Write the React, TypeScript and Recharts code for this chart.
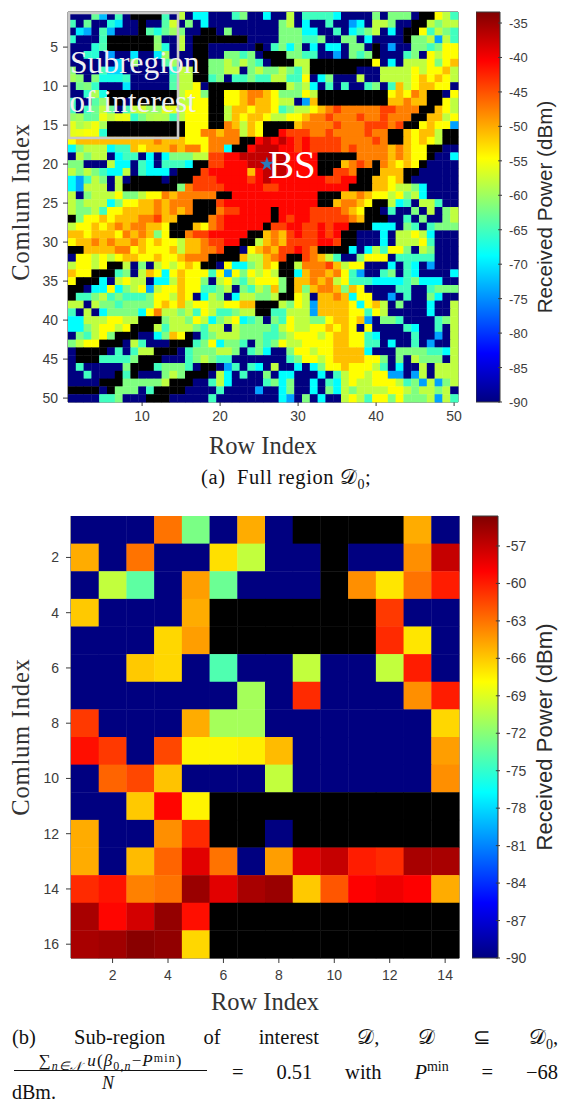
import {
  Bar,
  BarChart,
  Scatter,
  ScatterChart,
  XAxis,
  YAxis,
} from 'recharts';

// full region, one letter per cell, split in a west and an east half
const fullRowsWest = [
  'tnngbngn.....glnccnnntgnn', 'gnnntclnn.nnglngncnnnnnnn', 'ncbnnbnnn.ttglgnn..ngnnnn', 'tnnnn......gnnln.......nn', 'nnntg......gnnln..nnnnnn.',
  'nnntcbnntnncglnn..nnggtgn', 'nnnctnnntnnnglnn..gglglgt', 'lnnccttnnnnnnnll..ggllngl', 'gllnccccnnnnnnll..tgnttgt', 'ggggnnncnnnnnnllyn.......',
  'nnggg.........lyyg..yyaoo', 'ggllggylllyyllllyy..yyaoa', 'glllyyyytgglgtlyyy..laaya', 'ylllyyyytgglgllyyy..layaa', 'yyyyt..........yyy..oalay',
  'yyyyt..........yyooaoolay', 'yaaaaaaaaaaoaaayyyoooo..R', 'cglllcttayaaaoaooyooc..Rd', 'nlgllncttncncgggllrrRRddd', 'ggnnnlccntcntttc..rrRRRdd',
  'lglgtcclntcccn...rRRRRRaR', 'cbtlgnln....n...rrrRRRRrR', 'cblllnl.......gorrrrRRRRR', 'lnglllygglyyoaooooo..RRRR', 'lglllcgyyaaoaooo...rRRRRR',
  'lggltyyaaaaoaoao...orrRRR', '.gyyayaaaooraa....orRRRRR', 'lyyayaoaooaay...ayorRRRRR', 'aayaaayoaoagy..orrRRRRR..', 'yaaoaoaaoayayylaaorrRR..l',
  '..aaaaooyayyyalaaoor..nya', 'nyylylyaayyayyaooo....all', 'lyyly..lngnlylyay..nyccgl', 'ayy...tgnlaycyayyytybygyl', 'y...cnlyllncclayygnlygtly',
  '..nccycglyblyyayyttglngtl', '.ttgltgtttgyylaynclgncllg', 'llnlggtggggyayalyyllyyaa.', 'tnlncggggcyollgltylttgll.', 'cclllyyll...gllgylcglyctg',
  'ccglyyly...ltlllgtllnlggg', 'ngtlyg...nncgay.ntglllggg', 'glyy...nltnnn...tgycggtng', 'n....ntntll...ntgggllgntg', 'n...ttttg...nnntglgttnnnn',
  'ntnnnnng...tgggtn..nbtntc', 'nntnnn.t.nnnglg...nlcntnn', 'nnnn...gggggl...nntlcnnnn', '....n.gggnt....nnnntnnnnb', 'nnnnttgnnn...nnnnntnnnnnn',
];
const fullRowsEast = [
  'cnnlnttttcnnnngngggn..ylt', 'nnglncnntnnbcnllgnn..lgll', 'nngggccnntnctglncn..ytlgt', 'nngggttgnnggncnnnn.gglblt', 'ntgcgncnccnggn.nbnnggtgyy',
  '...ggttnnbngtg.nnntgnylyy', 'n...ll........yncnlllygya', 'gglgtl......nnnllllylyyal', 'tllttyncgnnnlnnllllyayayl', '...lglcntntnntgntalyaayyn',
  'aygggyl.........yayoa..ny', 'ayllnba.........aaoaa..yl', 'aytgllyaorooooorrooo..ayl', 'yllyyaooroooroorooo..aaly', '....aoooorooorrror..yayyb',
  '..Rrrroorooooroo..ayaal..', 'dRdRrRrrrrooooro..ayayl..', 'ddRRrRrrrrorooooaoayy..nn', 'dddRRRR.....ooooaoayy.nnc', 'dddRRRR...aoro.oayay.nnnn',
  'dddRRRR..rro...aaa..nnnnn', 'dRRRRRRRrrRR..aaya.nnnnnn', 'rrRRRRRRRRR...aayllgcnnnn', 'RRRRRRR...aaoayylyglcnnnn', 'RRRRRRR..aooay..lctnlltnn',
  'R.RRRRrrrroay..ntnngnlngl', 'R.RrRRrrrrroa...nntngnngl', '.rrRRrrRrRR...cccngtntggg', 'aoarRrrRrR..nnncnllylcnnn', 'aoarrrrRRr..nnncnlllytnnn',
  'oarrRro....cncltyygnlgnnn', 'aor..roaltnngyyyntttttnnn', 'ay..loooralyynnncntcnbnnn', 'yl..caooaoytbnntgntcnnnnc', 'yyg.aaoaolytttcccctgcccnn',
  'gag.agaooagaynnnnttnntggg', 'gl..ylnaaoacyynnbntnngcnn', '..lgylbaaaaycyalngnnncnnl', '.ttlllbaaaayytylnnnnncnnl', 'ngtyllggyaayabnggtnnnntgl',
  'gtlyllyyayaynynnnntcnntnl', 'ttglyyylyaayytcnnnntnnbnl', 'tgyllyyyyaayyttncnntnbnnl', 'cnngyylyyaaaacnnnggggttcl', 'nnntgyylyaaaayygngnlgggnl',
  'nlnncncgyyayyyltncnnlnlll', 'gnccnnncntlyylyybbnblnlll', 'tgcgnncntclyllyyyltgblbgl', 'nncgnncngclgllllyylgllgln', 'nncbngncnnlyltyygyggglblt',
];
// dBm for each letter, '.' means no reading (drawn black)
const fullLevels: Record<string, number> = {
  n: -90, b: -74, c: -68.8, t: -65.2, g: -61.7, l: -58.2, y: -54.6, a: -51.1, o: -47.5, r: -44, R: -40.8, d: -37,
};
const N = -90;
const X = null;
// the sub-region is the top left corner of the full region: 16 rows, 14 columns
const subRows: (number | null)[][] = [
  [N, N, N, -63, -72.5, N, -65, N, X, X, X, X, -65, N],
  [-65, N, -63, N, N, -66.8, -70, N, N, X, N, N, -64, -57],
  [N, -70, -73.5, N, -64.5, -73, N, N, N, X, -64, -67, -63, -60],
  [-66, N, N, N, -65, X, X, X, X, X, X, -61, N, N],
  [N, N, N, -66.5, -64.5, X, X, X, X, X, X, -60.5, -67, N],
  [N, N, -66, -66.5, N, -74, N, N, -70, N, N, -70, -60, N],
  [N, N, N, N, N, N, -71, N, -60.5, N, N, N, -64, -60],
  [-61, N, N, N, -65, -71, -71, N, N, N, N, N, N, -66.5],
  [-59.5, -61, N, -61.5, -67.5, -67.5, -67.3, -65.5, N, N, N, N, N, -64.5],
  [N, -62.5, -61.5, -65.8, N, N, N, -70, N, N, N, N, N, -64],
  [N, N, -66, -59.2, -67.5, X, X, X, X, X, X, X, X, X],
  [-65, N, N, -64, -60.5, X, X, N, X, X, X, X, X, X],
  [-65, N, -65.5, -62.5, -58, -63, N, -64.5, -58, -57, -60, -60.5, -56, -56],
  [-60.5, -59.7, -63.5, -63, -55.5, -58, -56, -55.5, -66, -62, -59, -58.5, -59, -65],
  [-56, -59.2, -57.5, -55.3, -59.5, X, X, X, X, X, X, X, X, X],
  [-56, -55.7, -54.9, -55.2, -66.5, X, X, X, X, X, X, X, X, X],
];

const fullXTicks = [10, 20, 30, 40, 50];
const fullYTicks = [5, 10, 15, 20, 25, 30, 35, 40, 45, 50];
const subXTicks = [2, 4, 6, 8, 10, 12, 14];
const subYTicks = [2, 4, 6, 8, 10, 12, 14, 16];
const fullBarTicks = [-90, -85, -80, -75, -70, -65, -60, -55, -50, -45, -40, -35];
const subBarTicks = [-90, -87, -84, -81, -78, -75, -72, -69, -66, -63, -60, -57];
const fullRange = [-90, -33.4];
const subRange = [-90, -54.6];
const bsPoint = [{ col: 26, row: 20 }];
const subregionBox = [{ col: 7.62, row: 8.64 }];
const annotations = [
  { col: 0.76, row: 8.3, text: 'Subregion', size: 31.5, color: '#f0f0f0' },
  { col: 0.65, row: 13.3, text: 'of interest', size: 31.5, color: '#f0f0f0' },
  { col: 26.14, row: 21.8, text: 'BS', size: 39, color: '#ffffff' },
];

const sans = '"Liberation Sans", Arial, sans-serif';
const serif = '"Liberation Serif", "Times New Roman", serif';
const axisGrey = '#3a3a3a';
const tickStyle = { fill: '#3c3c3c', fontSize: 14, fontFamily: sans };
const axisTitle = { fill: '#333', fontSize: 24.5, fontFamily: serif };
const columnTitle = { ...axisTitle, letterSpacing: 0.8, textAnchor: 'middle' };

const jetStops = [
  [0, '#000080'], [0.125, '#0000ff'], [0.375, '#00ffff'], [0.625, '#ffff00'], [0.875, '#ff0000'], [1, '#800000'],
] as const;

function hexToRgb(hex: string) {
  return [1, 3, 5].map((i) => parseInt(hex.slice(i, i + 2), 16));
}

function jet(t: number) {
  const v = Math.min(1, Math.max(0, t));
  for (let i = 1; i < jetStops.length; i++) {
    const [t1, c1] = jetStops[i];
    if (v <= t1) {
      const [t0, c0] = jetStops[i - 1];
      const f = (v - t0) / (t1 - t0);
      const a = hexToRgb(c0);
      const b = hexToRgb(c1);
      return `rgb(${a.map((p, k) => Math.round(p + (b[k] - p) * f)).join(',')})`;
    }
  }
  return '#800000';
}

const fullCells = fullRowsWest.flatMap((west, r) =>
  (west + fullRowsEast[r]).split('').map((ch, c) => {
    const inSub = r < subRows.length && c < subRows[0].length;
    const dbm = inSub ? subRows[r][c] : ch === '.' ? null : fullLevels[ch];
    return { col: c + 1, row: r + 1, dbm };
  }),
);
const subCells = subRows.flatMap((cells, r) =>
  cells.map((dbm, c) => ({ col: c + 1, row: r + 1, dbm })),
);

function makeCell(w: number, h: number, range: number[]) {
  return (props: any) => {
    const { dbm } = props.payload;
    const fill = dbm === null ? '#000' : jet((dbm - range[0]) / (range[1] - range[0]));
    return (
      <rect
        x={props.cx - w / 2}
        y={props.cy - h / 2}
        width={w + 0.4}
        height={h + 0.4}
        fill={fill}
        stroke="none"
      />
    );
  };
}

const boxShape = (props: any) => (
  <rect x={props.cx - 54.5} y={props.cy - 62.5} width={109} height={125} fill="none" stroke="#c8c8c8" strokeWidth={2.6} />
);

const noteShape = (props: any) => (
  <text x={props.cx} y={props.cy} fill={props.payload.color} fontSize={props.payload.size} fontFamily={serif}>
    {props.payload.text}
  </text>
);

// ticks with no number, only the little mark on the far sides of the box
const blankTick = () => <g />;

function ColorBar({ top, left, height, barWidth, ticks, range, id, labelSize, labelDx, tickGap, tickSize }: any) {
  const renderTick = (p: any) => (
    <g>
      <line x1={p.x - barWidth * 0.16} x2={p.x} y1={p.y} y2={p.y} stroke={axisGrey} />
      <text x={p.x + tickGap} y={p.y + 5} {...tickStyle} fontSize={tickSize}>{p.payload.value}</text>
    </g>
  );
  return (
    <div style={{ position: 'absolute', top: top - 10, left }}>
      <BarChart
        width={barWidth + 70}
        height={height + 20}
        data={[{ name: 'bar', span: range }]}
        margin={{ top: 10, right: 0, bottom: 10, left: 0 }}
        barCategoryGap={0}
      >
        <defs>
          <linearGradient id={id} x1="0" y1="1" x2="0" y2="0">
            {jetStops.map(([t, c]) => (
              <stop key={t} offset={t} stopColor={c} />
            ))}
          </linearGradient>
        </defs>
        <XAxis dataKey="name" hide />
        <YAxis
          orientation="right"
          width={70}
          type="number"
          domain={range}
          ticks={ticks}
          interval={0}
          axisLine={false}
          tickLine={false}
          tickSize={0}
          tick={renderTick}
          label={{
            value: 'Received Power (dBm)',
            angle: -90,
            position: 'center',
            dx: labelDx,
            style: { fill: '#2b2b2b', fontSize: labelSize, fontFamily: sans },
          }}
        />
        <Bar dataKey="span" fill={`url(#${id})`} stroke={axisGrey} strokeWidth={1} isAnimationActive={false} />
      </BarChart>
    </div>
  );
}

function FullPanel() {
  const cell = 7.8;
  return (
    <div style={{ position: 'absolute', top: 0, left: 0 }}>
      <ScatterChart width={470} height={462} margin={{ top: 0, right: 0, bottom: 0, left: 0 }}>
        <XAxis
          xAxisId="bottom"
          type="number"
          dataKey="col"
          domain={[0.5, 50.5]}
          ticks={fullXTicks}
          interval={0}
          height={60}
          tickSize={4}
          tickMargin={5}
          stroke={axisGrey}
          tick={tickStyle}
          label={{ value: 'Row Index', position: 'insideBottom', offset: 8, style: axisTitle }}
        />
        <XAxis xAxisId="top" orientation="top" type="number" domain={[0.5, 50.5]} ticks={fullXTicks} interval={0} height={12} tickSize={4} tick={blankTick} stroke={axisGrey} />
        <YAxis
          yAxisId="left"
          type="number"
          dataKey="row"
          reversed
          domain={[0.5, 50.5]}
          ticks={fullYTicks}
          interval={0}
          width={68}
          tickSize={5}
          tickMargin={5}
          stroke={axisGrey}
          tick={tickStyle}
          label={{ value: 'Comlum Index', angle: -90, position: 'insideLeft', offset: 20, dy: -5, style: columnTitle }}
        />
        <YAxis yAxisId="right" orientation="right" type="number" reversed domain={[0.5, 50.5]} ticks={fullYTicks} interval={0} width={12} tickSize={4} tick={blankTick} stroke={axisGrey} />
        <Scatter xAxisId="bottom" yAxisId="left" data={fullCells} shape={makeCell(cell, cell, fullRange)} isAnimationActive={false} />
        <Scatter xAxisId="bottom" yAxisId="left" data={subregionBox} shape={boxShape} isAnimationActive={false} />
        <Scatter xAxisId="bottom" yAxisId="left" data={bsPoint} shape="star" fill="#2b7bba" isAnimationActive={false} />
        <Scatter xAxisId="bottom" yAxisId="left" data={annotations} shape={noteShape} isAnimationActive={false} />
      </ScatterChart>
    </div>
  );
}

function SubPanel() {
  return (
    <div style={{ position: 'absolute', top: 500, left: 0 }}>
      <ScatterChart width={470} height={520} margin={{ top: 16, right: 0, bottom: 0, left: 0 }}>
        <XAxis
          xAxisId="bottom"
          type="number"
          dataKey="col"
          domain={[0.5, 14.5]}
          ticks={subXTicks}
          interval={0}
          height={62}
          tickSize={5}
          tickMargin={7}
          stroke={axisGrey}
          tick={tickStyle}
          label={{ value: 'Row Index', position: 'insideBottom', offset: 10, style: axisTitle }}
        />
        <YAxis
          yAxisId="left"
          type="number"
          dataKey="row"
          reversed
          domain={[0.5, 16.5]}
          ticks={subYTicks}
          interval={0}
          width={71}
          tickSize={5}
          tickMargin={7}
          stroke={axisGrey}
          tick={tickStyle}
          label={{ value: 'Comlum Index', angle: -90, position: 'insideLeft', offset: 20, style: columnTitle }}
        />
        <YAxis yAxisId="right" orientation="right" type="number" reversed domain={[0.5, 16.5]} ticks={subYTicks} interval={0} width={11} tickSize={5} tick={blankTick} stroke={axisGrey} />
        <Scatter xAxisId="bottom" yAxisId="left" data={subCells} shape={makeCell(388 / 14, 442 / 16, subRange)} isAnimationActive={false} />
      </ScatterChart>
    </div>
  );
}

const capStyle = { position: 'absolute', fontFamily: serif, fontSize: 20.5, color: '#111', whiteSpace: 'nowrap', lineHeight: 1 } as const;
const scriptD = <span style={{ fontFamily: '"DejaVu Sans", "Noto Sans", serif' }}>𝒟</span>;
const subZero = <sub style={{ fontSize: 14, lineHeight: 0 }}>0</sub>;
const fracScript = { fontSize: 12, lineHeight: 0 };

export default function App() {
  return (
    <div style={{ position: 'absolute', top: 0, left: 0, width: 561, height: 1102, background: '#fff', overflow: 'hidden' }}>
      <FullPanel />
      <ColorBar top={12} left={476} height={390} barWidth={24} ticks={fullBarTicks} range={fullRange} id="jetFull" labelSize={20.7} labelDx={10} tickGap={7} tickSize={13} />
      <SubPanel />
      <ColorBar top={516} left={472} height={442} barWidth={26} ticks={subBarTicks} range={subRange} id="jetSub" labelSize={22.1} labelDx={11} tickGap={6} tickSize={14} />

      <div style={{ ...capStyle, left: 201, top: 467, letterSpacing: 0.6 }}>
        (a)&nbsp; Full region {scriptD}{subZero};
      </div>

      <div style={{ ...capStyle, left: 12, width: 546, top: 1027, display: 'flex', justifyContent: 'space-between' }}>
        <span>(b)</span><span>Sub-region</span><span>of</span><span>interest</span>
        <span>{scriptD},</span><span>{scriptD}</span><span>⊆</span>
        <span>{scriptD}{subZero},</span>
      </div>

      <div style={{ ...capStyle, left: 14, width: 193, top: 1052, textAlign: 'center', fontSize: 17, letterSpacing: 1.1, borderBottom: '1px solid #111', paddingBottom: 2, height: 16 }}>
        <i>∑<sub style={fracScript}>n∈𝒩</sub></i> <i>u</i>(<i>β</i><sub style={fracScript}>0,<i>n</i></sub>−<i>P</i><sup style={{ ...fracScript, verticalAlign: '4px' }}>min</sup>)
      </div>
      <div style={{ ...capStyle, left: 102, top: 1074, fontSize: 18 }}><i>N</i></div>

      <div style={{ ...capStyle, left: 232, width: 326, top: 1062, display: 'flex', justifyContent: 'space-between' }}>
        <span>=</span><span>0.51</span><span>with</span>
        <span><i>P</i><sup style={{ fontSize: 14, lineHeight: 0 }}>min</sup></span>
        <span>=</span><span>−68</span>
      </div>

      <div style={{ ...capStyle, left: 12, top: 1082, fontSize: 20 }}>dBm.</div>
    </div>
  );
}
